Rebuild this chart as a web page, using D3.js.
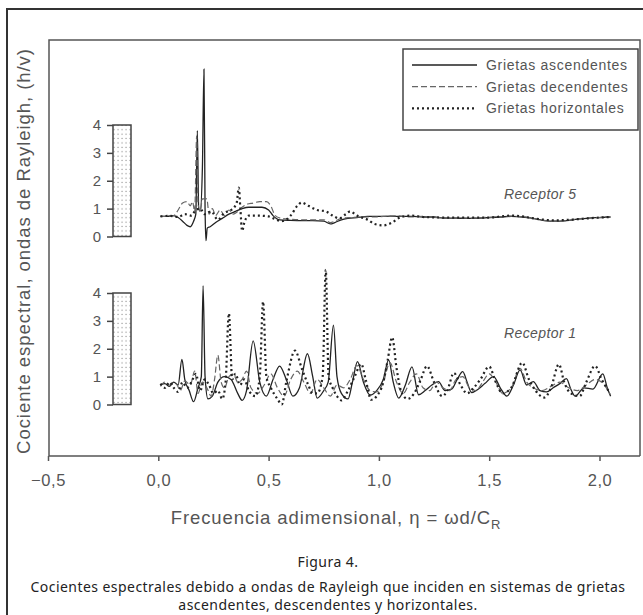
<!DOCTYPE html>
<html>
<head>
<meta charset="utf-8">
<title>Cocientes espectrales, ondas de Rayleigh</title>
<script src="https://d3js.org/d3.v7.min.js"></script>
<style>
  body { margin: 0; background: #fff; }
  svg text { font-family: "Liberation Sans", Arial, sans-serif; fill: #555; }
  svg text.caption { font-family: "Noto Sans", sans-serif; fill: #222; }
</style>
</head>
<body>
<div id="chart"></div>
<script>

// x ticks and labels
var xTicks = [-0.5, 0, 0.5, 1, 1.5, 2];
var yTicks = [0, 1, 2, 3, 4];
var seriesNames = ["Grietas ascendentes", "Grietas decendentes", "Grietas horizontales"];

// Receptor 5 -- [eta, h/v]
var r5Asc = [[0.01,0.72],[0.04,0.72],[0.07,0.75],[0.09,0.68],[0.11,0.55],[0.13,0.40],[0.145,0.35],[0.16,0.55],
  [0.17,0.8],[0.177,3.8],[0.183,1.0],[0.19,0.9],[0.2,2.5],[0.207,6.0],[0.212,1.0],[0.216,-0.15],[0.222,0.3],[0.235,0.35],[0.26,0.5],
  [0.29,0.65],[0.32,0.8],[0.35,0.9],[0.38,1.0],[0.41,1.05],[0.44,1.05],[0.47,1.05],[0.5,0.95],[0.52,0.75],
  [0.55,0.6],[0.6,0.58],[0.65,0.57],[0.7,0.57],[0.75,0.55],[0.78,0.45],[0.8,0.5],[0.83,0.6],[0.86,0.65],
  [0.9,0.68],[0.95,0.72],[1.0,0.72],[1.05,0.73],[1.1,0.72],[1.15,0.72],[1.2,0.7],[1.25,0.7],[1.3,0.66],
  [1.35,0.66],[1.4,0.65],[1.45,0.66],[1.5,0.68],[1.55,0.7],[1.6,0.72],[1.65,0.7],[1.7,0.65],[1.75,0.57],
  [1.8,0.55],[1.85,0.57],[1.9,0.62],[1.95,0.66],[2.0,0.68],[2.05,0.7]];
var r5Dec = [[0.01,0.72],[0.04,0.72],[0.07,0.75],[0.09,0.95],[0.11,1.2],[0.13,1.25],[0.145,1.1],[0.155,1.25],
  [0.165,0.9],[0.174,3.6],[0.18,1.2],[0.19,0.9],[0.2,1.35],[0.22,1.35],[0.23,0.8],[0.245,1.0],
  [0.26,0.75],[0.28,0.95],[0.3,0.75],[0.32,0.95],[0.34,0.8],[0.36,0.9],[0.38,1.05],[0.4,1.15],[0.43,1.2],
  [0.46,1.25],[0.49,1.25],[0.51,1.1],[0.53,0.75],[0.56,0.65],[0.6,0.62],[0.65,0.6],[0.7,0.6],[0.75,0.6],
  [0.78,0.5],[0.8,0.55],[0.83,0.65],[0.87,0.68],[0.92,0.7],[0.97,0.7],[1.02,0.72],[1.08,0.74],[1.14,0.7],
  [1.2,0.72],[1.27,0.68],[1.33,0.67],[1.4,0.66],[1.47,0.68],[1.53,0.7],[1.6,0.73],[1.66,0.7],[1.72,0.62],
  [1.78,0.55],[1.84,0.56],[1.9,0.63],[1.97,0.67],[2.05,0.7]];
var r5Hor = [[0.01,0.72],[0.05,0.74],[0.09,0.7],[0.12,0.8],[0.15,0.75],[0.17,0.95],[0.19,1.0],[0.21,0.8],
  [0.24,0.9],[0.27,0.6],[0.3,0.85],[0.33,0.95],[0.355,1.2],[0.365,1.75],[0.372,1.0],[0.38,0.2],[0.39,0.5],
  [0.41,0.75],[0.45,0.75],[0.5,0.72],[0.53,0.62],[0.56,0.55],[0.6,0.75],[0.63,1.1],[0.65,1.22],[0.68,1.1],
  [0.72,0.95],[0.76,0.9],[0.79,0.75],[0.82,0.65],[0.85,0.8],[0.87,0.9],[0.9,0.75],[0.95,0.6],[0.98,0.45],
  [1.02,0.4],[1.06,0.5],[1.1,0.7],[1.15,0.75],[1.2,0.7],[1.3,0.68],[1.4,0.68],[1.5,0.68],[1.6,0.75],
  [1.65,0.72],[1.7,0.65],[1.8,0.58],[1.9,0.62],[2.0,0.68],[2.05,0.7]];

// Receptor 1 -- [eta, h/v]
var r1Asc = [[0.01,0.7],[0.03,0.75],[0.05,0.65],[0.07,0.8],[0.09,0.7],[0.107,1.62],[0.12,0.9],[0.14,0.5],
  [0.16,0.1],[0.18,0.6],[0.195,1.0],[0.203,4.26],[0.212,1.0],[0.225,0.2],[0.245,0.3],[0.27,0.8],[0.3,1.0],
  [0.33,0.9],[0.36,0.4],[0.38,0.15],[0.4,0.5],[0.43,2.28],[0.46,0.8],[0.49,0.3],[0.52,0.9],[0.55,1.38],
  [0.58,0.9],[0.61,0.3],[0.64,0.6],[0.676,1.82],[0.7,1.0],[0.72,0.23],[0.75,0.5],[0.77,0.8],[0.794,2.85],
  [0.81,1.0],[0.83,0.4],[0.86,0.2],[0.88,0.8],[0.903,1.54],[0.93,0.8],[0.96,0.34],[0.99,0.5],[1.02,0.9],
  [1.044,1.6],[1.065,0.8],[1.09,0.23],[1.12,0.7],[1.15,1.35],[1.18,0.35],[1.21,0.5],[1.24,0.7],[1.27,0.82],
  [1.3,0.5],[1.33,0.55],[1.355,0.9],[1.38,1.18],[1.4,0.8],[1.42,0.43],[1.45,0.55],[1.48,0.75],[1.52,1.0],
  [1.55,0.6],[1.58,0.3],[1.61,0.7],[1.64,1.24],[1.67,0.7],[1.7,0.82],[1.73,0.5],[1.76,0.45],[1.79,0.6],
  [1.82,0.75],[1.85,0.93],[1.87,0.55],[1.89,0.3],[1.93,0.6],[1.97,0.55],[2.015,1.1],[2.035,0.6],[2.05,0.3]];
var r1Dec = [[0.01,0.65],[0.03,0.8],[0.05,0.7],[0.08,0.75],[0.1,0.5],[0.12,0.85],[0.145,0.7],[0.165,1.2],
  [0.18,0.4],[0.2,0.8],[0.22,0.6],[0.24,0.3],[0.255,0.9],[0.27,1.77],[0.285,0.8],[0.3,0.6],[0.32,1.0],
  [0.34,1.1],[0.36,0.8],[0.38,0.9],[0.4,1.2],[0.42,0.6],[0.45,0.4],[0.48,0.7],[0.51,1.1],[0.54,0.6],
  [0.57,0.3],[0.6,0.9],[0.63,1.2],[0.66,0.8],[0.69,0.4],[0.72,0.9],[0.75,0.6],[0.78,0.3],[0.81,0.7],
  [0.84,0.6],[0.87,0.9],[0.9,1.4],[0.93,0.9],[0.96,0.5],[0.99,0.45],[1.02,0.8],[1.05,1.5],[1.08,0.8],
  [1.11,0.4],[1.14,0.8],[1.17,1.1],[1.2,0.6],[1.23,0.5],[1.26,0.8],[1.29,0.6],[1.32,0.5],[1.35,0.9],
  [1.38,1.0],[1.41,0.6],[1.44,0.5],[1.47,0.8],[1.5,1.1],[1.53,0.8],[1.56,0.4],[1.6,0.6],[1.64,1.3],
  [1.67,0.8],[1.7,0.6],[1.74,0.5],[1.78,0.65],[1.82,0.8],[1.86,0.6],[1.9,0.5],[1.94,0.7],[1.98,0.9],
  [2.01,0.8],[2.05,0.35]];
var r1Hor = [[0.01,0.75],[0.03,0.6],[0.05,0.8],[0.07,0.6],[0.09,0.45],[0.11,0.8],[0.13,0.6],[0.15,0.8],
  [0.17,1.1],[0.19,0.5],[0.21,0.9],[0.23,0.7],[0.25,0.4],[0.27,0.5],[0.29,0.2],[0.305,0.8],[0.32,3.27],
  [0.335,0.9],[0.35,1.1],[0.37,0.7],[0.39,0.9],[0.41,0.5],[0.44,0.3],[0.46,1.0],[0.475,3.69],[0.49,1.0],
  [0.51,0.6],[0.54,0.2],[0.56,0.0],[0.58,0.8],[0.62,1.93],[0.65,1.3],[0.68,0.7],[0.7,0.4],[0.72,0.4],
  [0.745,1.0],[0.759,4.83],[0.772,1.0],[0.79,0.6],[0.81,0.3],[0.83,0.15],[0.86,0.5],[0.89,1.0],[0.92,1.45],
  [0.94,0.9],[0.965,0.17],[0.99,0.3],[1.02,0.8],[1.04,1.6],[1.06,2.41],[1.08,1.3],[1.1,0.5],[1.13,0.2],
  [1.16,0.4],[1.19,0.9],[1.218,1.38],[1.25,0.8],[1.287,0.3],[1.31,0.5],[1.34,1.13],[1.37,0.7],[1.4,0.4],
  [1.43,0.6],[1.46,0.9],[1.5,1.36],[1.53,0.8],[1.56,0.4],[1.6,0.6],[1.65,1.5],[1.68,0.9],[1.71,0.5],
  [1.75,0.25],[1.78,0.6],[1.816,1.44],[1.84,0.8],[1.87,0.4],[1.91,0.3],[1.94,0.8],[1.98,1.38],[2.01,0.9],
  [2.04,0.5]];

var W = 643, H = 615;
var frame = {left: 49, top: 40, right: 640, bottom: 456};

var styles = [
  {stroke: "#222", width: 1.3, dash: null},
  {stroke: "#666", width: 1.2, dash: "6,3"},
  {stroke: "#222", width: 2.2, dash: "2,3"}
];

var panels = [
  {label: "Receptor 5", zero: 236.5, four: 125, labelAt: 1.35, data: [r5Asc, r5Dec, r5Hor]},
  {label: "Receptor 1", zero: 404.5, four: 293, labelAt: 2.4, data: [r1Asc, r1Dec, r1Hor]}
];

var svg = d3.select("#chart").append("svg")
    .attr("width", W).attr("height", H);

svg.append("rect").attr("width", W).attr("height", H).attr("fill", "#fff");

// stipple used inside the little scale bars
var pat = svg.append("defs").append("pattern")
    .attr("id", "stipple").attr("patternUnits", "userSpaceOnUse")
    .attr("width", 4).attr("height", 4.4);
pat.append("rect").attr("x", 1.5).attr("y", 1.6).attr("width", 1.1).attr("height", 1.1).attr("fill", "#888");

// outer figure frame
svg.append("rect")
    .attr("x", 7).attr("y", 9).attr("width", 700).attr("height", 700)
    .attr("fill", "none").attr("stroke", "#333").attr("stroke-width", 2);

var x = d3.scaleLinear().domain([-0.5, 2.0]).range([48, 599.5]);

// plot box
svg.append("path")
    .attr("d", "M" + frame.left + "," + frame.bottom + "V" + frame.top + "H" + frame.right + "V" + frame.bottom)
    .attr("fill", "none").attr("stroke", "#555").attr("stroke-width", 1.5);

var fmt = d3.format(".1f");
var xAxis = svg.append("g")
    .attr("transform", "translate(0," + frame.bottom + ")")
    .call(d3.axisBottom(x).tickValues(xTicks).tickSizeInner(5).tickSizeOuter(0).tickPadding(13)
      .tickFormat(function(d) { return fmt(d).replace(".", ","); }));
xAxis.select(".domain").attr("d", "M" + frame.left + ",0H" + frame.right)
    .attr("stroke", "#555").attr("stroke-width", 1.5);
xAxis.selectAll(".tick line").attr("stroke", "#555").attr("stroke-width", 1.5);
xAxis.selectAll(".tick text")
    .style("font-family", "Liberation Sans, Arial, sans-serif")
    .attr("font-size", 16.5).attr("fill", "#555").style("letter-spacing", "0.6px");

// axis titles
var xt = svg.append("text")
    .attr("x", 336).attr("y", 524).attr("text-anchor", "middle")
    .attr("font-size", 18.5).style("letter-spacing", "0.9px");
xt.append("tspan").text("Frecuencia adimensional, \u03b7 = \u03c9d/C");
xt.append("tspan").attr("dy", 5).attr("font-size", 13).text("R");

svg.append("text")
    .attr("transform", "translate(29.5,251) rotate(-90)")
    .attr("text-anchor", "middle").attr("font-size", 18.5)
    .style("letter-spacing", "0.95px")
    .text("Cociente espectral, ondas de Rayleigh, (h/v)");

var line = d3.line()
    .x(function(d) { return x(d[0]); })
    .curve(d3.curveMonotoneX);

panels.forEach(function(p) {
  var y = d3.scaleLinear().domain([0, 4]).range([p.zero, p.four]);

  // scale bar with stipple
  svg.append("rect")
      .attr("x", 113).attr("y", y(4)).attr("width", 18).attr("height", y(0) - y(4))
      .attr("fill", "url(#stipple)").attr("stroke", "#444").attr("stroke-width", 1.5);

  var ya = svg.append("g").attr("transform", "translate(113,0)")
      .call(d3.axisLeft(y).tickValues(yTicks).tickSize(6).tickPadding(6).tickFormat(d3.format("d")));
  ya.select(".domain").remove();
  ya.selectAll(".tick line").attr("stroke", "#444").attr("stroke-width", 1.5);
  ya.selectAll(".tick text")
      .style("font-family", "Liberation Sans, Arial, sans-serif")
      .attr("font-size", 15).attr("fill", "#555");

  line.y(function(d) { return y(d[1]); });

  p.data.forEach(function(s, i) {
    svg.append("path")
        .datum(s)
        .attr("d", line)
        .attr("fill", "none")
        .attr("stroke", styles[i].stroke)
        .attr("stroke-width", styles[i].width)
        .attr("stroke-dasharray", styles[i].dash);
  });

  svg.append("text")
      .attr("x", 504).attr("y", y(p.labelAt))
      .attr("font-size", 14).attr("font-style", "italic")
      .style("letter-spacing", "0.4px")
      .text(p.label);
});

// legend
var lg = svg.append("g");
lg.append("rect")
    .attr("x", 403).attr("y", 49).attr("width", 235).attr("height", 81)
    .attr("fill", "#fff").attr("stroke", "#444").attr("stroke-width", 1.5);
seriesNames.forEach(function(name, i) {
  var yy = 65 + i * 21.7;
  lg.append("line")
      .attr("x1", 412).attr("x2", 477).attr("y1", yy).attr("y2", yy)
      .attr("stroke", styles[i].stroke)
      .attr("stroke-width", styles[i].width)
      .attr("stroke-dasharray", styles[i].dash);
  lg.append("text")
      .attr("x", 486).attr("y", yy + 5)
      .attr("font-size", 14).style("letter-spacing", "0.7px")
      .text(name);
});

// caption
svg.append("text").attr("class", "caption")
    .attr("x", 328).attr("y", 567).attr("text-anchor", "middle").attr("font-size", 14)
    .style("letter-spacing", "0.45px")
    .text("Figura 4.");
svg.append("text").attr("class", "caption")
    .attr("x", 328).attr("y", 592).attr("text-anchor", "middle").attr("font-size", 14)
    .style("letter-spacing", "0.45px")
    .text("Cocientes espectrales debido a ondas de Rayleigh que inciden en sistemas de grietas");
svg.append("text").attr("class", "caption")
    .attr("x", 328).attr("y", 610).attr("text-anchor", "middle").attr("font-size", 14)
    .style("letter-spacing", "0.45px")
    .text("ascendentes, descendentes y horizontales.");

</script>
</body>
</html>
